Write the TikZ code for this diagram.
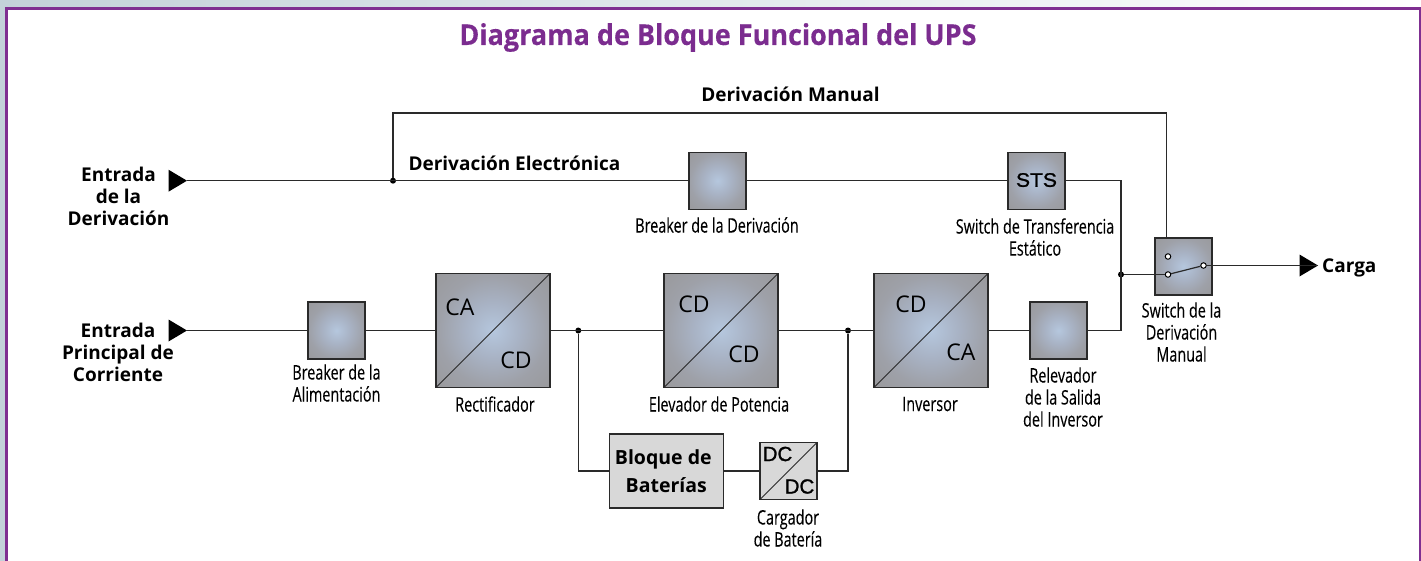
\documentclass[tikz,border=0pt]{standalone}
\usepackage{fontspec}
\setmainfont{Open Sans}
\newfontfamily\condf[FakeStretch=0.72,FakeBold=0.15]{Open Sans}
\newfontfamily\titlef[FakeStretch=0.94,FakeBold=0.3]{Open Sans}
\newfontfamily\dcf[FakeBold=1.2]{Liberation Sans}
\newfontfamily\stsf[FakeBold=1.2,FakeStretch=1.08]{Liberation Sans}
\usetikzlibrary{calc}
\definecolor{purp}{HTML}{7F2F91}
\definecolor{title}{HTML}{7B2C8F}
\definecolor{bgl}{HTML}{C3D2D9}
\definecolor{wire}{HTML}{2A2A2A}
\definecolor{battfill}{HTML}{D8D8D8}
\pgfdeclareradialshading{boxshade}{\pgfpoint{0bp}{0bp}}{%
  rgb(0bp)=(0.71,0.78,0.87);
  rgb(12bp)=(0.66,0.70,0.77);
  rgb(24bp)=(0.62,0.63,0.66);
  rgb(36bp)=(0.60,0.60,0.61);
  rgb(70bp)=(0.60,0.60,0.60)}
\tikzset{
  x=1pt,y=-1pt,
  wirel/.style={draw=wire,line width=1.2pt},
  sbox/.style={draw=wire,line width=1.2pt,shading=boxshade,minimum width=57pt,minimum height=57pt,inner sep=0pt,outer sep=0pt},
  bbox/.style={sbox,minimum width=114pt,minimum height=114pt},
  gbox/.style={draw=wire,line width=1.2pt,fill=battfill,inner sep=0pt,outer sep=0pt},
  junc/.style={circle,fill=black,inner sep=0pt,minimum size=6pt},
  term/.style={circle,draw=black,fill=white,line width=1pt,inner sep=0pt,minimum size=5.5pt},
  capt/.style={font=\condf\fontsize{20}{22}\selectfont,align=center,text=black,inner sep=0pt},
  boldt/.style={font=\fontsize{19}{22}\selectfont\bfseries,align=center,inner sep=0pt},
  conv/.style={font=\fontsize{23}{24}\selectfont,inner sep=0pt},
  dct/.style={font=\dcf\fontsize{20.5}{24}\selectfont,inner sep=0pt},
  tip/.style={fill=black,draw=none},
}
\begin{document}
\begin{tikzpicture}
\useasboundingbox (0,0) rectangle (1421,560);
\begin{scope}
\clip (0,0) rectangle (1421,560);
\shade[left color=bgl,right color=white] (0,0) rectangle (1421,560);
\draw[draw=purp,fill=white,line width=2.2pt] (6.5,8.5) rectangle (1420.5,600);
\end{scope}
\node[font=\titlef\fontsize{28.7}{30}\selectfont\bfseries,text=title,inner sep=0pt] (ttl) at (718,37.5) {Diagrama de Bloque Funcional del UPS};

% boxes
\node[sbox] (bder) at (717.5,180.7) {};
\node[sbox,font=\stsf\fontsize{19.5}{22}\selectfont] (sts) at (1036.5,180.7) {\raisebox{1.5pt}{STS}};
\node[sbox] (msw) at (1183.5,266.5) {};
\node[sbox] (rel) at (1058.5,330.5) {};
\node[sbox] (bal) at (336.5,330.5) {};
\node[bbox] (rec) at (493,330.5) {};
\node[bbox] (ele) at (721,330.5) {};
\node[bbox] (inv) at (931,330.5) {};
\node[gbox,minimum width=114pt,minimum height=74pt,font=\fontsize{19.5}{28}\selectfont\bfseries,align=center] (bat) at (666.3,471) {\hspace*{-6pt}\raisebox{-2pt}{Bloque de}\\\raisebox{-2pt}{Baterías}};
\node[gbox,minimum width=57pt,minimum height=57pt] (chg) at (788.5,471) {};

% diagonals
\draw[wirel,line width=1pt] (rec.south west) -- (rec.north east);
\draw[wirel,line width=1pt] (ele.south west) -- (ele.north east);
\draw[wirel,line width=1pt] (inv.south west) -- (inv.north east);
\draw[wirel,line width=1pt] (chg.south west) -- (chg.north east);

% converter text
\node[conv] (t1) at (460,307) {CA};
\node[conv] (t2) at (516,360.5) {CD};
\node[conv] (t3) at (694,304) {CD};
\node[conv] (t4) at (744,354) {CD};
\node[conv] (t5) at (911,304) {CD};
\node[conv] (t6) at (961,352.5) {CA};
\node[dct] (t7) at (777.5,454) {DC};
\node[dct] (t8) at (799.5,486.5) {DC};

% arrow tips
\coordinate (tipa) at (187,180.7);
\coordinate (tipb) at (187,330.5);
\coordinate (tipc) at (1318,265.5);
\fill[tip] (tipa) -- ++(-18.5,-11) -- ++(0,22) -- cycle;
\fill[tip] (tipb) -- ++(-18.5,-11) -- ++(0,22) -- cycle;
\fill[tip] (tipc) -- ++(-18.5,-11) -- ++(0,22) -- cycle;

% junctions and terminals
\node[junc] (j1) at (393,180.7) {};
\node[junc] (j2) at (578.3,330.5) {};
\node[junc] (j3) at (848,330.5) {};
\node[junc] (j4) at (1121,274.5) {};
\coordinate (topl) at (393,113);
\coordinate (topr) at (1166.5,113);
\coordinate (swtop) at (1166.5,238);
\coordinate (busa) at (1121,180.7);
\coordinate (busb) at (1121,330.5);
\coordinate (bl) at (578.3,471);
\coordinate (br) at (848,471);

% wires
\draw[wirel] (tipa) -- (bder.west);
\draw[wirel] (j1) -- (topl) -- (topr) -- (swtop);
\draw[wirel] (bder.east) -- (sts.west);
\draw[wirel] (sts.east) -- (busa) -- (busb) -- (rel.east);
\draw[wirel] (tipb) -- (bal.west);
\draw[wirel] (bal.east) -- (rec.west);
\draw[wirel] (rec.east) -- (ele.west);
\draw[wirel] (ele.east) -- (inv.west);
\draw[wirel] (inv.east) -- (rel.west);
\draw[wirel] (j2) -- (bl) -- (bat.west);
\draw[wirel] (bat.east) -- (chg.west);
\draw[wirel] (chg.east) -- (br) -- (j3);

% switch
\node[term] (s1) at (1168,256.5) {};
\node[term] (s2) at (1168,274.5) {};
\node[term] (s3) at (1203.5,265.5) {};
\draw[wirel] (j4) -- (s2);
\draw[wirel] (s2) -- (s3);
\draw[wirel] (s3.east) -- (tipc);

% labels
\node[boldt] (l1) at (118.5,196) {Entrada\\de la\\Derivación};
\node[boldt] (l2) at (118,352.5) {Entrada\\Principal de\\Corriente};
\node[boldt,anchor=west] (l3) at (1322,268) {Carga};
\node[boldt] (l4) at (790.5,94) {Derivación Manual};
\node[boldt] (l5) at (514.5,163) {Derivación Electrónica};
\node[capt] (c1) at (717,225) {Breaker de la Derivación};
\node[capt] (c2) at (1035,237) {Switch de Transferencia\\Estático};
\node[capt] (c3) at (1181.5,332) {Switch de la\\Derivación\\Manual};
\node[capt] (c4) at (336.5,383) {Breaker de la\\Alimentación};
\node[capt] (c5) at (495,404) {Rectificador};
\node[capt] (c6) at (719,404) {Elevador de Potencia};
\node[capt] (c7) at (930,404) {Inversor};
\node[capt] (c8) at (1063,397) {Relevador\\de la Salida\\del Inversor};
\node[capt] (c9) at (788,528) {Cargador\\de Batería};
\end{tikzpicture}
\end{document}
